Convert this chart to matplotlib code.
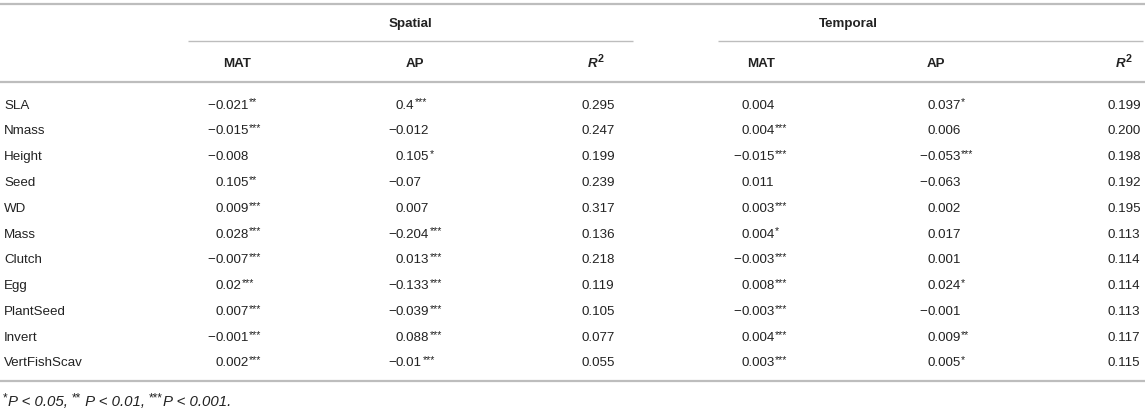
import matplotlib
import matplotlib.pyplot as plt

matplotlib.use("Agg")

plt.rcParams['font.family'] = ['Liberation Sans', 'DejaVu Sans']

# table content
traits = ["SLA", "Nmass", "Height", "Seed", "WD", "Mass", "Clutch", "Egg",
          "PlantSeed", "Invert", "VertFishScav"]

sp_mat = ["-0.021", "-0.015", "-0.008", "0.105", "0.009", "0.028", "-0.007",
          "0.02", "0.007", "-0.001", "0.002"]
sp_mat_sig = ["**", "***", "", "**", "***", "***", "***", "***", "***", "***", "***"]
sp_ap = ["0.4", "-0.012", "0.105", "-0.07", "0.007", "-0.204", "0.013",
         "-0.133", "-0.039", "0.088", "-0.01"]
sp_ap_sig = ["***", "", "*", "", "", "***", "***", "***", "***", "***", "***"]
sp_r2 = ["0.295", "0.247", "0.199", "0.239", "0.317", "0.136", "0.218",
         "0.119", "0.105", "0.077", "0.055"]

tp_mat = ["0.004", "0.004", "-0.015", "0.011", "0.003", "0.004", "-0.003",
          "0.008", "-0.003", "0.004", "0.003"]
tp_mat_sig = ["", "***", "***", "", "***", "*", "***", "***", "***", "***", "***"]
tp_ap = ["0.037", "0.006", "-0.053", "-0.063", "0.002", "0.017", "0.001",
         "0.024", "-0.001", "0.009", "0.005"]
tp_ap_sig = ["*", "", "***", "", "", "", "", "*", "", "**", "*"]
tp_r2 = ["0.199", "0.200", "0.198", "0.192", "0.195", "0.113", "0.114",
         "0.114", "0.113", "0.117", "0.115"]

groups = ["Spatial", "Temporal"]
col_heads = ["MAT", "AP"]
footnote = [("*", True), ("P < 0.05, ", False), ("**", True), (" P < 0.01, ", False),
            ("***", True), ("P < 0.001.", False)]

TXT = "#222222"
LINE = "#bdbdbd"
FS = 9.6
SUP = FS * 0.8
FOOT = 10.8

fig = plt.figure(figsize=(11.45, 4.17), dpi=100)
ax = fig.add_axes([0, 0, 1, 1])
ax.set_xlim(0, 1145)
ax.set_ylim(417, 0)
ax.axis("off")
renderer = fig.canvas.get_renderer()


def width(t):
    # 1 data unit == 1 pixel here
    return t.get_window_extent(renderer=renderer).width


# rules
ax.plot([0, 1145], [4, 4], color=LINE, lw=1.6, solid_capstyle="butt")
ax.plot([188, 633], [41, 41], color=LINE, lw=1.0, solid_capstyle="butt")
ax.plot([718, 1143], [41, 41], color=LINE, lw=1.0, solid_capstyle="butt")
ax.plot([0, 1145], [82, 82], color=LINE, lw=1.6, solid_capstyle="butt")
ax.plot([0, 1145], [381, 381], color=LINE, lw=1.6, solid_capstyle="butt")


def r2_head(x, y):
    t = ax.text(x, y, "R", fontsize=FS, fontweight="bold", fontstyle="italic",
                color=TXT, ha="left", va="center_baseline")
    ax.text(x + width(t) + 0.5, y - 4, "2", fontsize=FS * 0.8, fontweight="bold",
            color=TXT, ha="left", va="center_baseline")


# group headers
ax.text(410, 22, groups[0], fontsize=FS, fontweight="bold", color=TXT,
        ha="center", va="center_baseline")
ax.text(848, 22, groups[1], fontsize=FS, fontweight="bold", color=TXT,
        ha="center", va="center_baseline")

# column headers
for xc, lab in zip([237, 415, 761, 936], col_heads * 2):
    ax.text(xc, 62, lab, fontsize=FS, fontweight="bold", color=TXT,
            ha="center", va="center_baseline")
r2_head(588, 62)
r2_head(1116, 62)


def cell(x, y, val, sig=""):
    # digits line up at x, a minus sign hangs to the left
    if val.startswith("-"):
        ax.text(x, y, "\u2212", fontsize=FS, color=TXT, ha="right",
                va="center_baseline")
        val = val[1:]
    t = ax.text(x, y, val, fontsize=FS, color=TXT, ha="left", va="center_baseline")
    if sig:
        ax.text(x + width(t) + 0.5, y - 2.5, sig, fontsize=SUP, color=TXT,
                ha="left", va="center_baseline")


row_y0 = 104
row_dy = 25.8
for i, name in enumerate(traits):
    y = row_y0 + i * row_dy
    ax.text(4, y, name, fontsize=FS, color=TXT, ha="left", va="center_baseline")
    cell(215, y, sp_mat[i], sp_mat_sig[i])
    cell(396, y, sp_ap[i], sp_ap_sig[i])
    cell(582, y, sp_r2[i])
    cell(741, y, tp_mat[i], tp_mat_sig[i])
    cell(927, y, tp_ap[i], tp_ap_sig[i])
    cell(1108, y, tp_r2[i])

# footnote, pieces placed left to right
fx, fy = 3, 400
for piece, sup in footnote:
    if sup:
        t = ax.text(fx, fy - 3, piece, fontsize=FOOT * 0.78, color=TXT,
                    ha="left", va="center_baseline")
    else:
        t = ax.text(fx, fy, piece, fontsize=FOOT, fontstyle="italic",
                    color=TXT, ha="left", va="center_baseline")
    fx += width(t)

plt.savefig("out.png", dpi=100)
